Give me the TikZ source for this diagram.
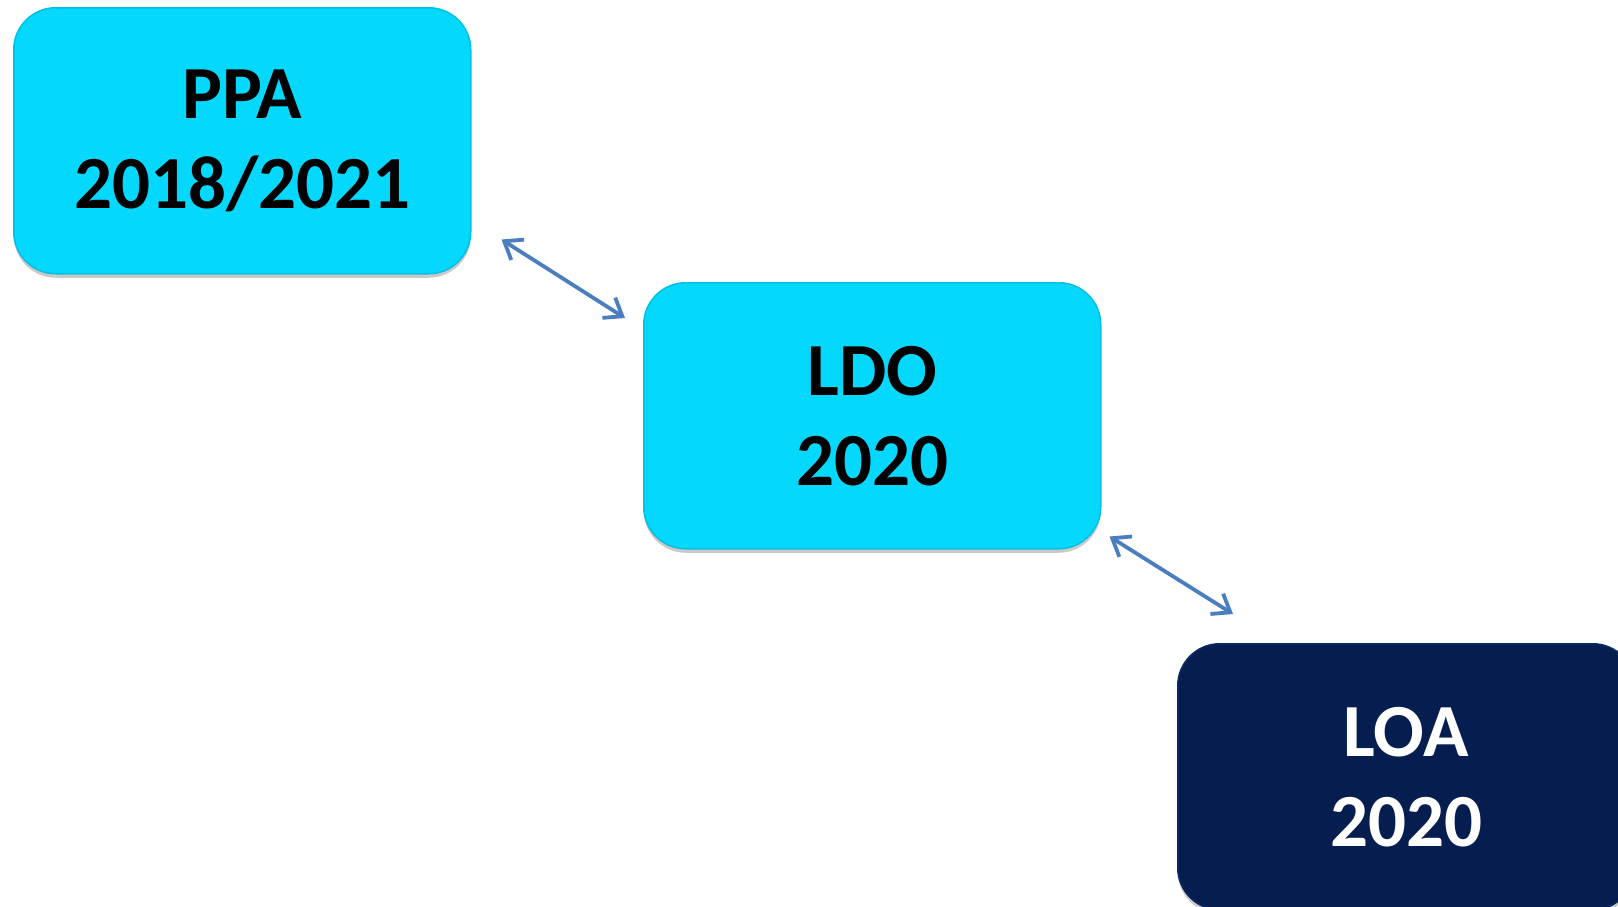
\documentclass[tikz,border=0pt]{standalone}
\usepackage{fontspec}
\setmainfont{Carlito}
\usetikzlibrary{arrows.meta,shadows,calc}
\definecolor{boxcyan}{HTML}{05D8FD}
\definecolor{cyanedge}{HTML}{00BFE6}
\definecolor{boxnavy}{HTML}{061E4F}
\definecolor{navyedge}{HTML}{0A2A66}
\definecolor{arrowblue}{HTML}{4A7EBF}
\tikzset{
  box/.style={rectangle, rounded corners=42pt, minimum width=457pt, minimum height=266pt,
    anchor=north west, inner sep=0pt, align=center,
    font=\fontsize{75}{90}\selectfont\bfseries,
    drop shadow={shadow xshift=0pt, shadow yshift=-4pt, opacity=0.35, fill=black!60}},
  lightbox/.style={box, fill=boxcyan, draw=cyanedge, line width=1.5pt, text=black},
  darkbox/.style={box, fill=boxnavy, draw=navyedge, line width=1.5pt, text=white},
  conn/.style={draw=arrowblue, line width=3.8pt, {Straight Barb[length=16pt,width=24pt]}-{Straight Barb[length=16pt,width=24pt]}}
}
\begin{document}
\begin{tikzpicture}[x=1pt,y=1pt]
\useasboundingbox[fill=white] (0,0) rectangle (1618,-906);
\node[lightbox] (ppa) at (13,-7) {PPA\\2018/2021};
\node[lightbox] (ldo) at (643,-282) {LDO\\2020};
\node[darkbox] (loa) at (1177,-643) {LOA\\2020};
\draw[conn] ([shift={(30,35)}]ppa.south east) -- ([shift={(-18,-36)}]ldo.north west);
\draw[conn] ([shift={(8,13)}]ldo.south east) -- ([shift={(56,29)}]loa.north west);
\end{tikzpicture}
\end{document}
